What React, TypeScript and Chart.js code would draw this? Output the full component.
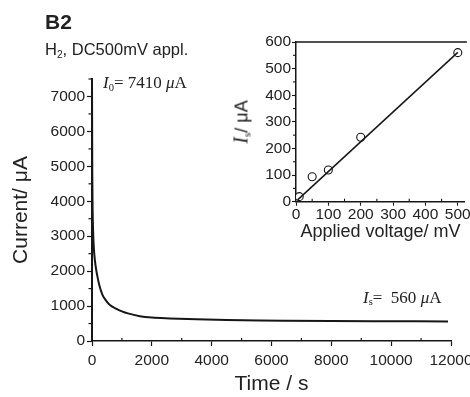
import React, { useEffect, useRef } from 'react';
import { Chart, registerables } from 'chart.js';

Chart.register(...registerables);

// Main chart: current decay under DC 500 mV
const timeS = [0, 5, 10, 20, 35, 50, 80, 120, 180, 250, 350, 475, 600, 800, 1000, 1200, 1600, 2000, 2600, 3500, 4500, 5600, 6500, 8000, 10000, 11900];
const currentUA = [7410, 6000, 4800, 3800, 3200, 2850, 2450, 2150, 1850, 1580, 1320, 1150, 1030, 930, 850, 790, 710, 670, 645, 620, 600, 585, 578, 570, 565, 560];
const mainXTicks = [0, 2000, 4000, 6000, 8000, 10000, 12000];
const mainXMinor = [1000, 3000, 5000, 7000, 9000, 11000];
const mainYTicks = [0, 1000, 2000, 3000, 4000, 5000, 6000, 7000];
const mainYMinor = [500, 1500, 2500, 3500, 4500, 5500, 6500, 7500];

// Inset: steady current vs applied voltage
const voltageMV = [10, 50, 100, 200, 500];
const steadyUA = [19, 94, 119, 242, 560];
const fitV = [5, 500];
const fitI = [7, 561];
const insetXTicks = [0, 100, 200, 300, 400, 500];
const insetXMinor = [50, 150, 250, 350, 450];
const insetYTicks = [0, 100, 200, 300, 400, 500, 600];
const insetYMinor = [50, 150, 250, 350, 450, 550];

const SANS = '"Liberation Sans", Arial, Helvetica, sans-serif';
const SERIF = '"Liberation Serif", "Times New Roman", serif';
const INK = '#161616';

const minorTicksPlugin = {
  id: 'minorTicks',
  afterDraw(chart: any, _args: any, opts: any) {
    const ctx = chart.ctx;
    ctx.save();
    ctx.strokeStyle = INK;
    for (const it of opts.items || []) {
      const scale = chart.scales[it.scaleId];
      ctx.lineWidth = it.width;
      for (const v of it.values) {
        const p = scale.getPixelForValue(v);
        ctx.beginPath();
        if (scale.isHorizontal()) {
          ctx.moveTo(p, scale.top);
          ctx.lineTo(p, scale.top + it.len);
        } else {
          ctx.moveTo(scale.right, p);
          ctx.lineTo(scale.right + it.len, p);
        }
        ctx.stroke();
      }
    }
    ctx.restore();
  },
};

const topBorderPlugin = {
  id: 'topBorder',
  afterDraw(chart: any, _args: any, opts: any) {
    if (!opts.show) return;
    const { ctx, chartArea } = chart;
    ctx.save();
    ctx.strokeStyle = INK;
    ctx.lineWidth = opts.width;
    ctx.beginPath();
    ctx.moveTo(chartArea.left, chartArea.top);
    ctx.lineTo(chartArea.right + 2, chartArea.top);
    ctx.stroke();
    ctx.restore();
  },
};

const fixScale = (size: number, horiz: boolean) => (scale: any) => {
  if (horiz) scale.height = size;
  else scale.width = size;
  scale.paddingLeft = 0;
  scale.paddingRight = 0;
  scale.paddingTop = 0;
  scale.paddingBottom = 0;
};

const setTicks = (vals: number[]) => (scale: any) => {
  scale.ticks = vals.map((v) => ({ value: v }));
};

const plainLabel = (v: any) => String(v);

function MainChart() {
  const ref = useRef<HTMLCanvasElement>(null);
  useEffect(() => {
    const chart = new Chart(ref.current!, {
      type: 'line',
      data: {
        datasets: [
          {
            data: timeS.map((t, i) => ({ x: t, y: currentUA[i] })),
            borderColor: INK,
            borderWidth: 2,
            pointRadius: 0,
            cubicInterpolationMode: 'monotone',
            fill: false,
          },
        ],
      },
      plugins: [minorTicksPlugin],
      options: {
        responsive: false,
        animation: false,
        events: [],
        layout: { padding: { left: 0, top: 79, right: 19, bottom: 0 } },
        plugins: {
          legend: { display: false },
          tooltip: { enabled: false },
          minorTicks: {
            items: [
              { scaleId: 'x', values: mainXMinor, len: -3, width: 1.2 },
              { scaleId: 'y', values: mainYMinor, len: -3.5, width: 1.2 },
            ],
          },
        } as any,
        scales: {
          x: {
            type: 'linear',
            min: 0,
            max: 12000,
            afterBuildTicks: setTicks(mainXTicks),
            afterFit: fixScale(56, true),
            grid: { drawOnChartArea: false, tickLength: 5, tickColor: INK, tickWidth: 1.2 },
            border: { color: INK, width: 1.5 },
            ticks: {
              autoSkip: false,
              maxRotation: 0,
              padding: 5,
              color: '#222',
              font: { family: SANS, size: 15.5 },
              callback: plainLabel,
            },
            title: {
              display: true,
              text: 'Time / s',
              color: '#222',
              font: { family: SANS, size: 21 },
              padding: { top: 0, bottom: 0 },
            },
          },
          y: {
            type: 'linear',
            min: 0,
            max: 7500,
            afterBuildTicks: setTicks(mainYTicks),
            afterFit: fixScale(92, false),
            grid: { drawOnChartArea: false, tickLength: 5, tickColor: INK, tickWidth: 1.2 },
            border: { color: INK, width: 2 },
            ticks: {
              autoSkip: false,
              padding: 2,
              color: '#222',
              font: { family: SANS, size: 15.5 },
              callback: plainLabel,
            },
            title: {
              display: true,
              text: 'Current/ μA',
              color: '#222',
              font: { family: SANS, size: 21 },
              padding: { top: 9, bottom: 0 },
            },
          },
        },
      },
    } as any);
    return () => chart.destroy();
  }, []);
  return (
    <canvas
      ref={ref}
      width={470}
      height={397}
      style={{ position: 'absolute', left: 0, top: 0, width: 470, height: 397 }}
    />
  );
}

function InsetChart() {
  const ref = useRef<HTMLCanvasElement>(null);
  useEffect(() => {
    const chart = new Chart(ref.current!, {
      type: 'line',
      data: {
        datasets: [
          {
            data: fitV.map((v, i) => ({ x: v, y: fitI[i] })),
            borderColor: INK,
            borderWidth: 1.5,
            pointRadius: 0,
            fill: false,
          },
          {
            data: voltageMV.map((v, i) => ({ x: v, y: steadyUA[i] })),
            showLine: false,
            pointRadius: 4,
            pointBackgroundColor: '#ffffff',
            pointBorderColor: INK,
            pointBorderWidth: 1.1,
          },
        ],
      },
      plugins: [minorTicksPlugin, topBorderPlugin],
      options: {
        responsive: false,
        animation: false,
        events: [],
        layout: { padding: { left: 0, top: 22, right: 0, bottom: 0 } },
        plugins: {
          legend: { display: false },
          tooltip: { enabled: false },
          topBorder: { show: true, width: 1.5 },
          minorTicks: {
            items: [
              { scaleId: 'x', values: insetXMinor, len: -3, width: 1.1 },
              { scaleId: 'y', values: insetYMinor, len: -3, width: 1.1 },
            ],
          },
        } as any,
        scales: {
          x: {
            type: 'linear',
            min: 0,
            max: 522,
            afterBuildTicks: setTicks(insetXTicks),
            afterFit: fixScale(48.3, true),
            grid: { drawOnChartArea: false, tickLength: 4, tickColor: INK, tickWidth: 1.1 },
            border: { color: INK, width: 1.5 },
            ticks: {
              autoSkip: false,
              maxRotation: 0,
              padding: 0,
              color: '#222',
              font: { family: SANS, size: 15.5 },
              callback: plainLabel,
            },
            title: {
              display: true,
              text: 'Applied voltage/ mV',
              color: '#222',
              font: { family: SANS, size: 18 },
              padding: { top: 0, bottom: 7 },
            },
          },
          y: {
            type: 'linear',
            min: 0,
            max: 600,
            afterBuildTicks: setTicks(insetYTicks),
            afterFit: fixScale(66, false),
            grid: { drawOnChartArea: false, tickLength: 4, tickColor: INK, tickWidth: 1.1 },
            border: { color: INK, width: 1.5 },
            ticks: {
              autoSkip: false,
              padding: 1,
              color: '#222',
              font: { family: SANS, size: 15.5 },
              callback: plainLabel,
            },
          },
        },
      },
    } as any);
    return () => chart.destroy();
  }, []);
  return (
    <canvas
      ref={ref}
      width={240}
      height={230}
      style={{ position: 'absolute', left: 230, top: 20, width: 240, height: 230 }}
    />
  );
}

const sub: React.CSSProperties = { fontSize: '0.62em', position: 'relative', top: '0.25em', lineHeight: 0 };

export default function App() {
  return (
    <div
      style={{
        position: 'absolute',
        left: 0,
        top: 0,
        width: 470,
        height: 397,
        overflow: 'hidden',
        background: '#ffffff',
        color: '#222',
      }}
    >
      <MainChart />
      <InsetChart />
      <div
        style={{
          position: 'absolute',
          left: 45,
          top: 10.5,
          fontFamily: SANS,
          fontWeight: 'bold',
          fontSize: 21,
          lineHeight: '21px',
          whiteSpace: 'nowrap',
        }}
      >
        B2
      </div>
      <div
        style={{
          position: 'absolute',
          left: 45,
          top: 41,
          fontFamily: SANS,
          fontSize: 16.5,
          lineHeight: '16.5px',
          whiteSpace: 'nowrap',
        }}
      >
        H<span style={sub}>2</span>, DC500mV appl.
      </div>
      <div
        style={{
          position: 'absolute',
          left: 103,
          top: 74,
          fontFamily: SERIF,
          fontSize: 17,
          lineHeight: '17px',
          whiteSpace: 'nowrap',
        }}
      >
        <i>I</i>
        <span style={sub}>0</span>= 7410 <i>μ</i>A
      </div>
      <div
        style={{
          position: 'absolute',
          left: 363,
          top: 288.5,
          fontFamily: SERIF,
          fontSize: 17,
          lineHeight: '17px',
          whiteSpace: 'pre',
        }}
      >
        <i>I</i>
        <span style={sub}>s</span>{'=  560 '}<i>μ</i>A
      </div>
      <div
        style={{
          position: 'absolute',
          left: 241,
          top: 121.5,
          transform: 'translate(-50%, -50%) rotate(-90deg)',
          fontFamily: SANS,
          fontSize: 18,
          lineHeight: '18px',
          whiteSpace: 'nowrap',
        }}
      >
        <i style={{ fontFamily: SERIF, fontSize: 20 }}>I</i>
        <span style={{ ...sub, fontFamily: SERIF }}>s</span>/ μA
      </div>
    </div>
  );
}
